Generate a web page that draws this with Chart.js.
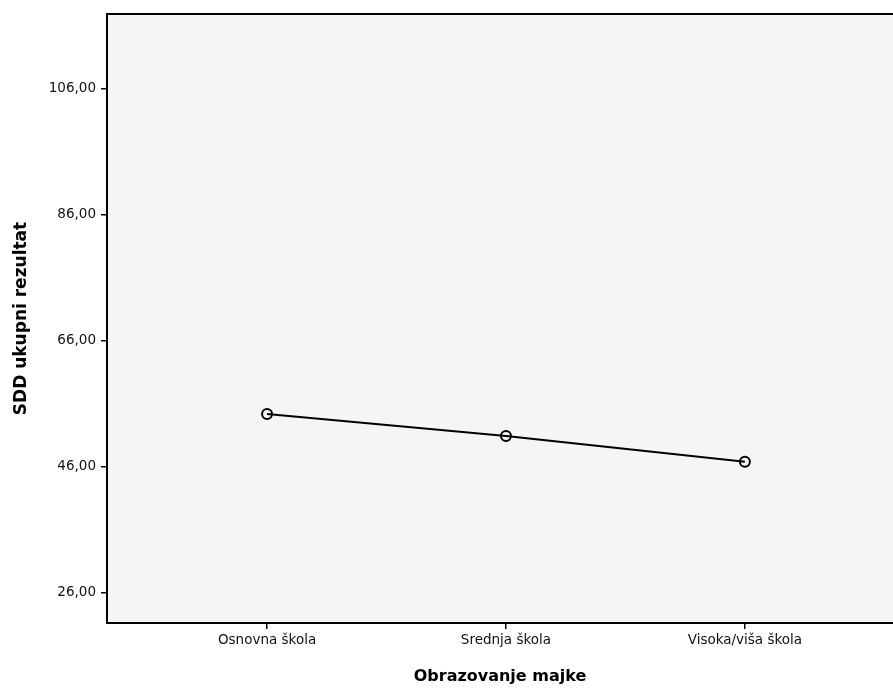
<!DOCTYPE html>
<html><head><meta charset="utf-8">
<script src="https://cdn.jsdelivr.net/npm/chart.js@4.4.0/dist/chart.umd.min.js"></script>
<style>html,body{margin:0;padding:0;background:#fff}#w{width:893px;height:690px}</style>
</head><body><div id="w"><canvas id="c"></canvas></div>
<script>
const categories = ["Osnovna škola", "Srednja škola", "Visoka/viša škola"];
const values = [54.4, 50.9, 46.8];
const yTicks = [26, 46, 66, 86, 106];

const bgPlugin = {
  id: 'bg',
  beforeDraw(chart) {
    const {ctx, chartArea: a} = chart;
    ctx.save();
    ctx.fillStyle = '#f6f5f6';
    ctx.fillRect(a.left, a.top, a.right - a.left, a.bottom - a.top);
    ctx.restore();
  },
  afterDraw(chart) {
    const {ctx, chartArea: a} = chart;
    ctx.save();
    ctx.strokeStyle = '#000';
    ctx.lineWidth = 2;
    ctx.beginPath();
    ctx.moveTo(a.left, a.top);
    ctx.lineTo(a.right, a.top);
    ctx.stroke();
    ctx.restore();
  }
};

new Chart(document.getElementById('c'), {
  type: 'line',
  data: {
    datasets: [{
      data: values.map((v, i) => ({x: i, y: v})),
      borderColor: '#000',
      borderWidth: 2,
      pointRadius: 5,
      pointBorderWidth: 2,
      pointBorderColor: '#000',
      pointBackgroundColor: 'rgba(0,0,0,0)',
      tension: 0
    }]
  },
  options: {
    responsive: true,
    maintainAspectRatio: false,
    animation: false,
    layout: {autoPadding: false, padding: {top: 14, right: 0, left: 0, bottom: 0}},
    plugins: {legend: {display: false}, tooltip: {enabled: false}},
    scales: {
      x: {
        type: 'linear',
        min: -0.67,
        max: 2.62,
        afterBuildTicks(s) { s.ticks = categories.map((c, i) => ({value: i})); },
        afterFit(s) { s.height = 67; },
        ticks: {
          autoSkip: false, maxRotation: 0,
          color: '#111', font: {family: 'DejaVu Sans', size: 13.5},
          padding: 3,
          callback: (v) => categories[v]
        },
        grid: {display: true, drawOnChartArea: false, tickLength: 6, color: '#000', lineWidth: 1.5},
        border: {display: true, color: '#000', width: 2},
        title: {display: true, text: 'Obrazovanje majke', color: '#000',
          font: {family: 'DejaVu Sans', size: 16, weight: 'bold'}, padding: {top: 5}}
      },
      y: {
        min: 21.2,
        max: 117.9,
        afterBuildTicks(s) { s.ticks = yTicks.map(v => ({value: v})); },
        afterFit(s) { s.width = 107; },
        ticks: {
          color: '#111', font: {family: 'DejaVu Sans', size: 13.5},
          padding: 5,
          callback: (v) => v.toFixed(2).replace('.', ',')
        },
        grid: {display: true, drawOnChartArea: false, tickLength: 6, color: '#000', lineWidth: 1.5},
        border: {display: true, color: '#000', width: 2},
        title: {display: true, text: 'SDD ukupni rezultat', color: '#000',
          font: {family: 'DejaVu Sans', size: 17, weight: 'bold'}, padding: {bottom: 0, top: 11}}
      }
    }
  },
  plugins: [bgPlugin]
});
</script></body></html>
